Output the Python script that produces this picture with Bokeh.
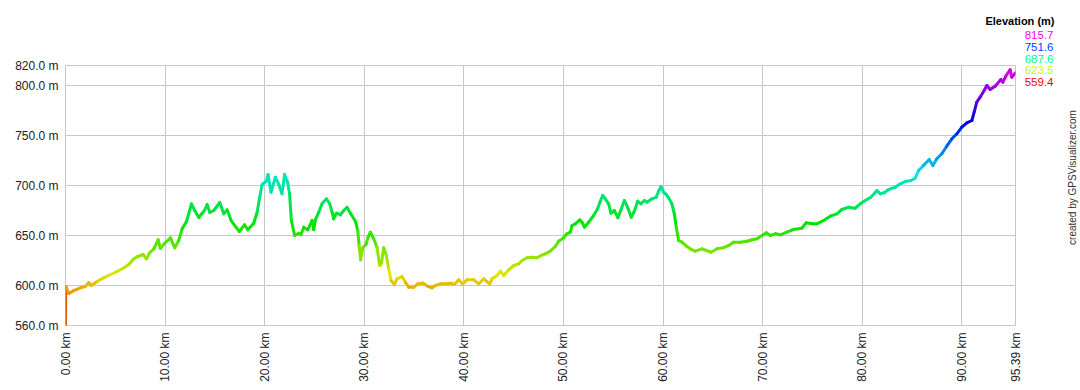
import colorsys
from bokeh.plotting import figure
from bokeh.models import Range1d, FixedTicker, CustomJSTickFormatter, Label, ColumnDataSource
from bokeh.layouts import column, row
from bokeh.embed import file_html
from bokeh.resources import INLINE

# ---- data ----
dist_km = [0, 0.02, 0.05, 0.33, 0.84, 1.5, 2.0, 2.34, 2.58, 3.18, 3.85, 4.52, 5.19, 5.86, 6.36, 6.86,
           7.26, 7.8, 8.13, 8.47, 8.87, 9.3, 9.53, 9.94, 10.54, 10.97, 11.37, 11.71, 12.15, 12.65,
           12.98, 13.38, 13.95, 14.22, 14.49, 14.89, 15.49, 15.89, 16.23, 16.63, 17.06, 17.46, 17.97,
           18.3, 18.9, 19.24, 19.5, 19.74, 20.17, 20.34, 20.64, 21.07, 21.41, 21.74, 22.0, 22.3, 22.5,
           22.68, 23.01, 23.42, 23.65, 23.92, 24.32, 24.76, 24.93, 25.09, 25.43, 25.76, 26.2, 26.53,
           26.77, 26.93, 27.2, 27.6, 27.94, 28.27, 28.61, 29.11, 29.35, 29.48, 29.64, 29.85, 30.18,
           30.38, 30.61, 30.95, 31.28, 31.55, 31.72, 31.95, 32.22, 32.45, 32.69, 33.02, 33.29, 33.79,
           34.12, 34.46, 34.97, 35.37, 35.9, 36.41, 36.8, 37.14, 37.64, 38.24, 38.71, 39.05, 39.48,
           39.88, 40.32, 40.99, 41.49, 41.99, 42.26, 42.6, 42.83, 43.33, 43.67, 44.0, 44.51, 45.01,
           45.51, 45.85, 46.34, 46.84, 47.34, 47.74, 48.18, 48.68, 49.18, 49.52, 50.02, 50.35, 50.69,
           50.86, 51.19, 51.63, 51.86, 52.1, 52.53, 53.03, 53.43, 53.7, 53.94, 54.2, 54.54, 54.77,
           55.11, 55.47, 55.81, 56.11, 56.44, 56.81, 57.15, 57.45, 57.78, 58.12, 58.38, 58.89, 59.32,
           59.55, 59.79, 60.05, 60.32, 60.56, 60.89, 61.13, 61.33, 61.56, 61.9, 62.4, 62.9, 63.24,
           63.91, 64.35, 64.81, 65.42, 66.02, 66.59, 67.09, 67.76, 68.43, 68.93, 69.44, 69.94, 70.37,
           70.77, 71.28, 71.78, 72.43, 73.1, 73.94, 74.38, 74.95, 75.45, 76.12, 76.79, 77.46, 77.96,
           78.63, 79.3, 79.8, 80.3, 80.87, 81.48, 81.81, 82.21, 82.65, 83.32, 83.82, 84.32, 84.89,
           85.32, 85.66, 86.15, 86.72, 87.09, 87.49, 87.99, 88.49, 89.0, 89.5, 90.0, 90.5, 91.01,
           91.24, 91.5, 91.84, 92.24, 92.51, 92.84, 93.35, 93.92, 94.12, 94.45, 94.85, 95.02, 95.39]
elev_m = [559.4, 598, 599, 592, 595, 597.7, 599, 603, 600, 604, 607.7, 611, 614, 617.7, 621, 626.7,
          629, 631, 626.7, 633, 636.7, 645.7, 637, 642, 647.7, 637.7, 645, 656.7, 664, 681.7,
          675, 668, 675, 681, 673, 675, 683, 671.7, 675.7, 665, 659, 654, 660.7,
          655.7, 662.3, 673, 688.3, 701, 704.3, 711, 693.3, 708.3, 701, 691.7, 711, 703.3, 691.7,
          665, 650, 652.3, 651, 658.3, 655.7, 665, 655.7, 665.7, 673.3, 681.7, 686.7, 681.7,
          673.3, 666.7, 672.3, 670.7, 675, 678.3, 672.3, 664.3, 655, 640, 625.7, 637.7, 641,
          648.3, 653.3, 646.7, 638.3, 620, 622.3, 637.7, 630, 616.7, 605, 601, 606.7, 609,
          603.3, 598.3, 598.3, 601.7, 602.3, 599, 597.7, 600, 601.7, 601.7, 602.3, 601, 605.7,
          601.7, 605.7, 605.7, 601.7, 606.7, 604.3, 601.7, 606.7, 610, 614.3, 610, 615.7, 620,
          621.7, 625, 627.7, 628.3, 627.7, 630, 631.7, 634.3, 639, 644.3, 647.7, 651.7, 653.3,
          660, 661.7, 665.7, 663.3, 658.3, 663.3, 670, 676.7, 684.3, 690, 686.7, 681.7, 672.3,
          675, 667.7, 676.7, 685, 678.3, 668.3, 675, 684.3, 681.7, 685, 683.3, 686.7, 688.3,
          694.3, 699, 693.3, 691, 687.7, 681.7, 671.7, 658.3, 645, 643.3, 639, 635.7, 634.3,
          636.7, 635, 633.3, 636.7, 637.7, 640, 643.3, 643.3, 644.3, 645.7, 646.7, 650, 652.7,
          650, 651.7, 650.7, 653.3, 656, 657.3, 662.7, 661.7, 661.7, 665, 669.3, 671.7, 676,
          678.3, 677.3, 681.7, 685, 688.3, 695, 691.7, 692.7, 696, 698.3, 701.7, 704, 705,
          707.3, 715, 720, 726, 720, 726.7, 731.7, 739.3, 746.7, 751.7, 758.3, 762.7, 765,
          773.3, 783.3, 788.3, 795, 800, 796, 799.3, 806, 803.3, 810, 815.7, 808.3, 812.7]

x_ticks = [0, 10, 20, 30, 40, 50, 60, 70, 80, 90, 95.39]
y_ticks = [560, 600, 650, 700, 750, 800, 820]
legend_values = [815.7, 751.6, 687.6, 623.5, 559.4]
legend_title = "Elevation (m)"
credit = "created by GPSVisualizer.com"

E_MIN, E_MAX = 559.4, 815.7

# page layout (pixels)
TOP_H = 27          # strip above holding the legend title
MAIN_W = 1023       # main figure width (frame 65..1015)
SIDE_W = 1080 - MAIN_W
BODY_H = 390 - TOP_H


def elev_color(e, v=0.9):
    f = min(max((e - E_MIN) / (E_MAX - E_MIN), 0.0), 1.0)
    r, g, b = colorsys.hsv_to_rgb(f * 300.0 / 360.0, 1.0, v)
    return "#%02x%02x%02x" % (int(r * 255), int(g * 255), int(b * 255))


def no_align(f):
    if "frame_align" in f.properties():
        f.frame_align = False


def text_panel(w, h):
    f = figure(width=w, height=h, output_backend="svg", toolbar_location=None,
               x_range=Range1d(0, w), y_range=Range1d(0, h),
               x_axis_location=None, y_axis_location=None,
               min_border_left=0, min_border_right=0, min_border_top=0, min_border_bottom=0)
    f.xgrid.visible = False
    f.ygrid.visible = False
    f.background_fill_color = "white"
    f.border_fill_color = "white"
    f.outline_line_color = None
    no_align(f)
    return f


seg = ColumnDataSource(dict(
    x0=dist_km[:-1], x1=dist_km[1:], y0=elev_m[:-1], y1=elev_m[1:],
    c=[elev_color((a + b) / 2) for a, b in zip(elev_m[:-1], elev_m[1:])],
))

p = figure(width=MAIN_W, height=BODY_H, output_backend="svg", toolbar_location=None,
           x_range=Range1d(0, 95.39), y_range=Range1d(560, 820),
           min_border_left=65, min_border_right=MAIN_W - 1015,
           min_border_top=65 - TOP_H, min_border_bottom=65)
no_align(p)
p.background_fill_color = "white"
p.border_fill_color = "white"
p.outline_line_color = "#c8c8c8"

p.segment(x0="x0", y0="y0", x1="x1", y1="y1", color="c", line_width=3,
          line_cap="round", source=seg)

p.xaxis.ticker = FixedTicker(ticks=x_ticks)
p.yaxis.ticker = FixedTicker(ticks=y_ticks)
p.xaxis.formatter = CustomJSTickFormatter(code="return tick.toFixed(2) + ' km';")
p.yaxis.formatter = CustomJSTickFormatter(code="return tick.toFixed(1) + ' m';")
p.xaxis.major_label_orientation = 3.14159265 / 2
for ax in (p.xaxis, p.yaxis):
    ax.axis_line_color = None
    ax.major_tick_line_color = None
    ax.minor_tick_line_color = None
    ax.major_tick_out = 0
    ax.major_tick_in = 0
    ax.major_label_standoff = 7
    ax.major_label_text_font = "Liberation Sans"
    ax.major_label_text_font_size = "12px"
    ax.major_label_text_color = "#222222"
for g in (p.xgrid, p.ygrid):
    g.grid_line_color = "#c8c8c8"
    g.grid_line_width = 1

# top strip: legend title
top = text_panel(1080, TOP_H)
top.add_layout(Label(x=1054, y=TOP_H - 20, x_units="screen", y_units="screen",
                     text=legend_title, text_align="right", text_baseline="middle",
                     text_font="Liberation Sans", text_font_size="11px",
                     text_font_style="bold", text_color="#000000"))

# side strip: legend values and credit (frame covers the whole strip)
side = text_panel(SIDE_W, BODY_H)
for i, v in enumerate(legend_values):
    side.add_layout(Label(x=1053 - MAIN_W, y=390 - (34.5 + 11.8 * i),
                          x_units="screen", y_units="screen",
                          text="%.1f" % v, text_align="right", text_baseline="middle",
                          text_font="Liberation Sans", text_font_size="11.5px",
                          text_color=elev_color(v, 1.0)))
side.add_layout(Label(x=1072 - MAIN_W, y=390 - 177, x_units="screen", y_units="screen",
                      text=credit, angle=3.14159265 / 2, text_align="center",
                      text_baseline="middle", text_font="Liberation Sans",
                      text_font_size="10px", text_color="#333333"))

layout = column(top, row(p, side, spacing=0), spacing=0)
open("out.html", "w").write(file_html(layout, INLINE))
